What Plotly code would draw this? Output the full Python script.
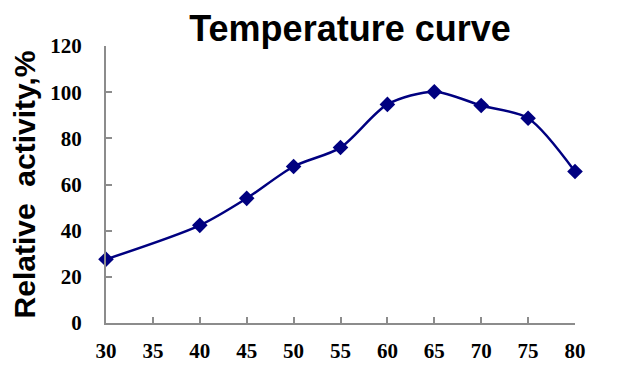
import plotly.graph_objects as go

temperature = [30, 40, 45, 50, 55, 60, 65, 70, 75, 80]
activity = [27.6, 42.3, 54.0, 67.8, 76.0, 94.7, 100.2, 94.2, 88.7, 65.6]
x_ticks = [30, 35, 40, 45, 50, 55, 60, 65, 70, 75, 80]
y_ticks = [0, 20, 40, 60, 80, 100, 120]

navy = "#000080"
grey = "#8c8c8c"

# the page body has an 8px margin, so the figure is sized to fit the window
W, H = 610, 363

fig = go.Figure()
fig.add_trace(go.Scatter(
    x=temperature, y=activity, mode="lines+markers",
    line=dict(color=navy, width=2.5, shape="spline", smoothing=0.8),
    marker=dict(symbol="diamond", size=12, color=navy),
    cliponaxis=False, showlegend=False,
))

fig.update_layout(
    width=W, height=H,
    margin=dict(l=98, r=43, t=38, b=48),
    paper_bgcolor="white", plot_bgcolor="white",
    title=dict(text="<b>Temperature curve</b>", x=342 / W, xanchor="center",
               y=0.944, yanchor="middle",
               font=dict(family="Liberation Sans, Arial", size=36, color="black")),
    xaxis=dict(range=[30, 80], tickvals=x_ticks, ticktext=[f"<b>{v}</b>" for v in x_ticks],
               showgrid=False, zeroline=False, showline=True, linecolor=grey, linewidth=2,
               ticks="inside", ticklen=6, tickcolor=grey, tickwidth=2,
               ticklabelstandoff=8, automargin=False,
               tickfont=dict(family="Liberation Serif, Times New Roman", size=21, color="black")),
    yaxis=dict(range=[0, 120], tickvals=y_ticks, ticktext=[f"<b>{v}</b>" for v in y_ticks],
               showgrid=False, zeroline=False, showline=True, linecolor=grey, linewidth=2,
               ticks="inside", ticklen=6, tickcolor=grey, tickwidth=2,
               ticklabelstandoff=18, automargin=False,
               tickfont=dict(family="Liberation Serif, Times New Roman", size=21, color="black"),
               title=dict(text="<b>Relative  activity,%</b>", standoff=11,
                          font=dict(family="Liberation Sans, Arial", size=30, color="black"))),
)

fig.write_html("out.html")
